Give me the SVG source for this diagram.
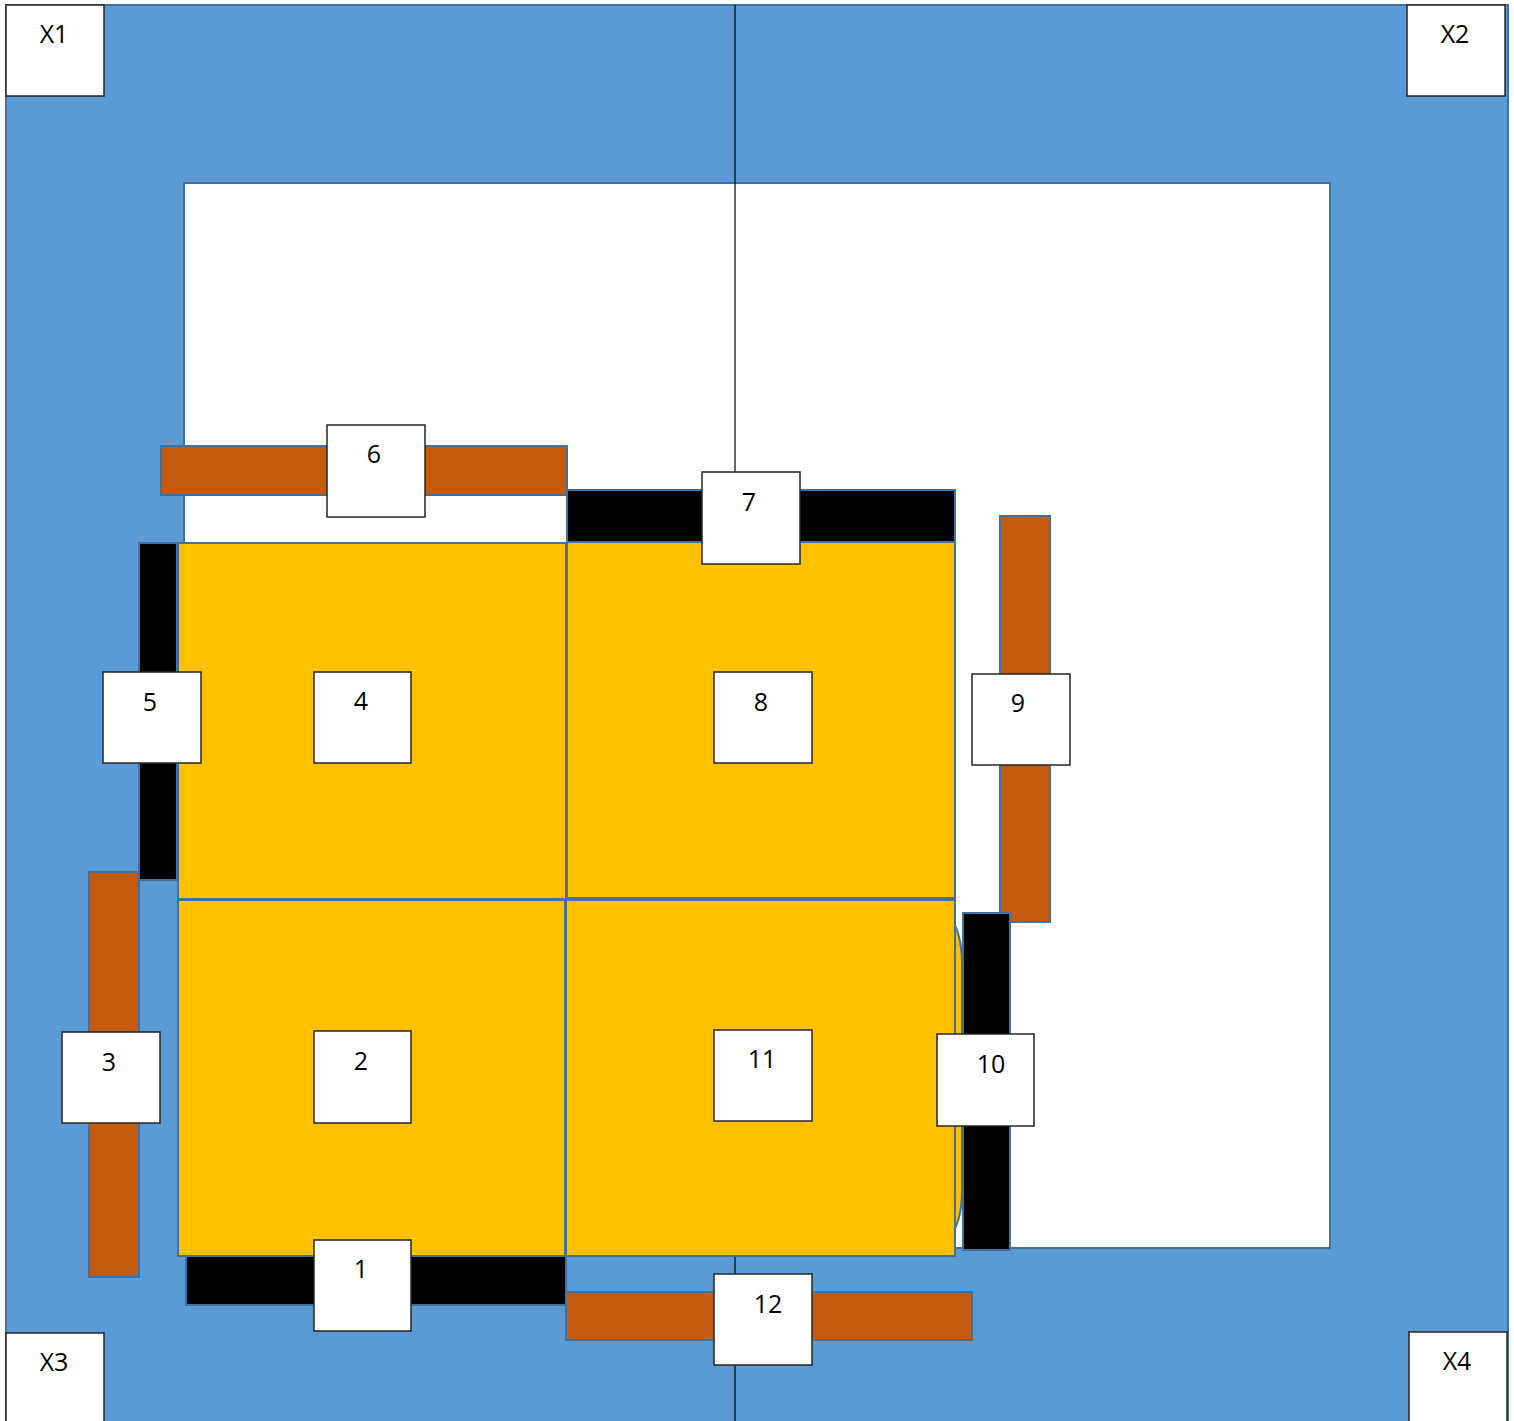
<svg xmlns="http://www.w3.org/2000/svg" width="1514" height="1421" viewBox="0 0 1514 1421">
<style>
.bg{fill:#5B9BD5;stroke:#41719C;stroke-width:2}
.inner{fill:#FFFFFF;stroke:#41719C;stroke-width:2}
.cell{fill:#FFC000;stroke:#41719C;stroke-width:2}
.blk{fill:#000000;stroke:#41719C;stroke-width:2}
.org{fill:#C55A11;stroke:#41719C;stroke-width:2}
.box{fill:#FFFFFF;stroke:#262626;stroke-width:1.5}
.lbl{font-family:"Open Sans","Liberation Sans",sans-serif;font-size:25px;fill:#000000;text-anchor:middle}
.ln{stroke:#000000;stroke-width:1.2;fill:none}
</style>
<rect class="bg" x="6" y="5" width="1502" height="1420"/>
<rect class="inner" x="184" y="183" width="1146" height="1065"/>
<g id="connectors">
<line class="ln" x1="735" y1="5" x2="735" y2="1421"/>
</g>
<g id="bar6"><rect class="org" x="161" y="446" width="406" height="49"/></g>
<g id="bar7"><rect class="blk" x="567" y="490" width="388" height="52"/></g>
<g id="bar5"><rect class="blk" x="139" y="543" width="38" height="337"/></g>
<g id="bar3"><rect class="org" x="89" y="872" width="50" height="405"/></g>
<g id="bar9"><rect class="org" x="1000" y="516" width="50" height="406"/></g>
<g id="bar10"><rect class="blk" x="963" y="913" width="47" height="337"/></g>
<g id="bar1"><rect class="blk" x="186" y="1256" width="380" height="49"/></g>
<g id="bar12"><rect class="org" x="566" y="1292" width="406" height="48"/></g>
<path class="cell" d="M950,918 Q962,932 962,965 L962,1190 Q962,1222 950,1236 Z"/>
<g id="cell4"><rect class="cell" x="178" y="543" width="388" height="356"/></g>
<g id="cell8"><rect class="cell" x="567" y="542" width="388" height="356"/></g>
<g id="cell2"><rect class="cell" x="178" y="900" width="387" height="356"/></g>
<g id="cell11"><rect class="cell" x="566" y="900" width="389" height="356"/></g>
<g id="nodeX1"><rect class="box" x="6" y="5" width="98" height="91"/><text class="lbl" x="54" y="43">X1</text></g>
<g id="nodeX2"><rect class="box" x="1407" y="5" width="98" height="91"/><text class="lbl" x="1455" y="43">X2</text></g>
<g id="nodeX3"><rect class="box" x="6" y="1333" width="98" height="92"/><text class="lbl" x="54" y="1371">X3</text></g>
<g id="nodeX4"><rect class="box" x="1409" y="1332" width="98" height="93"/><text class="lbl" x="1457" y="1370">X4</text></g>
<g id="node6"><rect class="box" x="327" y="425" width="98" height="92"/><text class="lbl" x="374" y="463">6</text></g>
<g id="node7"><rect class="box" x="702" y="472" width="98" height="92"/><text class="lbl" x="749" y="511">7</text></g>
<g id="node5"><rect class="box" x="103" y="672" width="98" height="91"/><text class="lbl" x="150" y="711">5</text></g>
<g id="node4"><rect class="box" x="314" y="672" width="97" height="91"/><text class="lbl" x="361" y="710">4</text></g>
<g id="node8"><rect class="box" x="714" y="672" width="98" height="91"/><text class="lbl" x="761" y="711">8</text></g>
<g id="node9"><rect class="box" x="972" y="674" width="98" height="91"/><text class="lbl" x="1018" y="712">9</text></g>
<g id="node3"><rect class="box" x="62" y="1032" width="98" height="91"/><text class="lbl" x="109" y="1071">3</text></g>
<g id="node2"><rect class="box" x="314" y="1031" width="97" height="92"/><text class="lbl" x="361" y="1070">2</text></g>
<g id="node11"><rect class="box" x="714" y="1030" width="98" height="91"/><text class="lbl" x="762" y="1068">11</text></g>
<g id="node10"><rect class="box" x="937" y="1034" width="97" height="92"/><text class="lbl" x="991" y="1073">10</text></g>
<g id="node1"><rect class="box" x="314" y="1240" width="97" height="91"/><text class="lbl" x="361" y="1278">1</text></g>
<g id="node12"><rect class="box" x="714" y="1274" width="98" height="91"/><text class="lbl" x="768" y="1313">12</text></g>
</svg>
